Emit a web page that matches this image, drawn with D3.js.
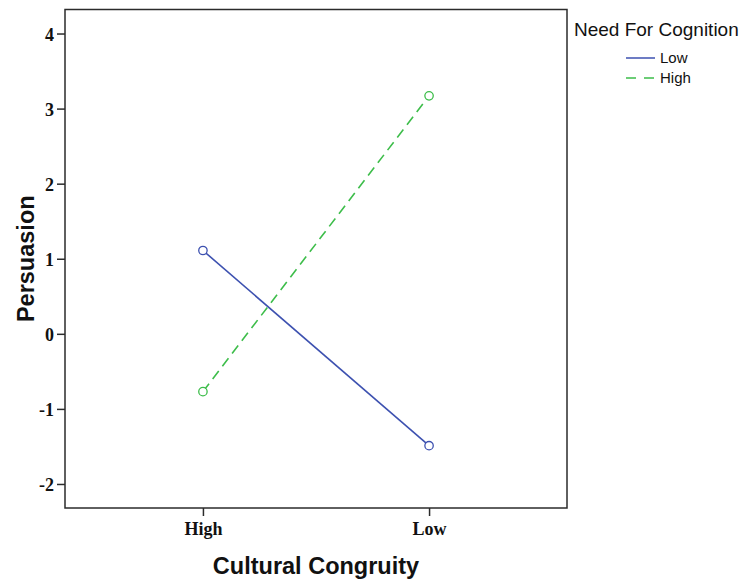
<!DOCTYPE html>
<html>
<head>
<meta charset="utf-8">
<script src="https://cdn.jsdelivr.net/npm/d3@7"></script>
<style>
  body { margin: 0; background: #fff; }
  svg { display: block; }
</style>
</head>
<body>
<div id="chart"></div>
<script>
// chart values
const congruity = ["High", "Low"];
const seriesNames = ["Low", "High"];
const lowNFC = [1.11, -1.49];
const highNFC = [-0.77, 3.17];
const yTicks = [-2, -1, 0, 1, 2, 3, 4];

const colors = { Low: "#3d51b0", High: "#3dbd4a" };
const series = [
    { name: "Low", values: lowNFC, dash: null },
    { name: "High", values: highNFC, dash: "10,6" }
];

const W = 749, H = 584;
const margin = { top: 9.5, right: 182, bottom: 76, left: 65 };
const width = W - margin.left - margin.right;
const height = H - margin.top - margin.bottom;

const svg = d3.select("#chart")
    .append("svg")
    .attr("width", W)
    .attr("height", H);

const g = svg.append("g")
    .attr("transform", `translate(${margin.left},${margin.top})`);

const xScale = d3.scalePoint().domain(congruity).range([0, width]).padding(0.61);
const yScale = d3.scaleLinear().domain([-2.32, 4.32]).range([height, 0]);

// frame
g.append("rect")
    .attr("width", width)
    .attr("height", height)
    .attr("fill", "none")
    .attr("stroke", "#2b2b2b")
    .attr("stroke-width", 1.5);

const xAxis = g.append("g")
    .attr("transform", `translate(0,${height})`)
    .call(d3.axisBottom(xScale).tickSize(8).tickPadding(6));

const yAxis = g.append("g")
    .call(d3.axisLeft(yScale).tickValues(yTicks).tickSize(8).tickPadding(3)
        .tickFormat(d => String(d)));

[xAxis, yAxis].forEach(ax => {
    ax.select(".domain").remove();
    ax.selectAll("line").attr("stroke", "#2b2b2b").attr("stroke-width", 1.5);
    ax.selectAll("text")
        .attr("fill", "#111")
        .style("font-family", "'Liberation Serif', 'Times New Roman', serif")
        .style("font-weight", "bold")
        .style("font-size", "18px");
});
yAxis.selectAll("text").attr("dy", "0.36em");

const line = d3.line()
    .x((d, i) => xScale(congruity[i]))
    .y(d => yScale(d));

series.forEach(s => {
    g.append("path")
        .datum(s.values)
        .attr("d", line)
        .attr("fill", "none")
        .attr("stroke", colors[s.name])
        .attr("stroke-width", 1.6)
        .attr("stroke-dasharray", s.dash);

    g.selectAll(null)
        .data(s.values)
        .enter()
        .append("circle")
        .attr("cx", (d, i) => xScale(congruity[i]))
        .attr("cy", d => yScale(d))
        .attr("r", 4.2)
        .attr("fill", "#fff")
        .attr("stroke", colors[s.name])
        .attr("stroke-width", 1.3);
});

// axis titles
svg.append("text")
    .attr("x", margin.left + width / 2)
    .attr("y", 574)
    .attr("text-anchor", "middle")
    .style("font-family", "'Liberation Sans', Arial, sans-serif")
    .style("font-weight", "bold")
    .style("font-size", "23.5px")
    .attr("fill", "#111")
    .text("Cultural Congruity");

svg.append("text")
    .attr("transform", `translate(34,${margin.top + height / 2}) rotate(-90)`)
    .attr("text-anchor", "middle")
    .style("font-family", "'Liberation Sans', Arial, sans-serif")
    .style("font-weight", "bold")
    .style("font-size", "23.5px")
    .attr("fill", "#111")
    .text("Persuasion");

// legend
const legend = svg.append("g");
legend.append("text")
    .attr("x", 574)
    .attr("y", 36)
    .style("font-family", "'Liberation Sans', Arial, sans-serif")
    .style("font-size", "19px")
    .attr("fill", "#111")
    .text("Need For Cognition");

const items = legend.selectAll("g.item")
    .data(series)
    .enter()
    .append("g")
    .attr("class", "item")
    .attr("transform", (d, i) => `translate(626,${58 + i * 20})`);

items.append("line")
    .attr("x1", 0).attr("x2", 29)
    .attr("stroke", d => colors[d.name])
    .attr("stroke-width", 1.5)
    .attr("stroke-dasharray", d => d.dash ? "10,8" : null);

items.append("text")
    .attr("x", 34)
    .attr("dy", "0.36em")
    .style("font-family", "'Liberation Sans', Arial, sans-serif")
    .style("font-size", "15px")
    .attr("fill", "#111")
    .text(d => d.name);
</script>
</body>
</html>
